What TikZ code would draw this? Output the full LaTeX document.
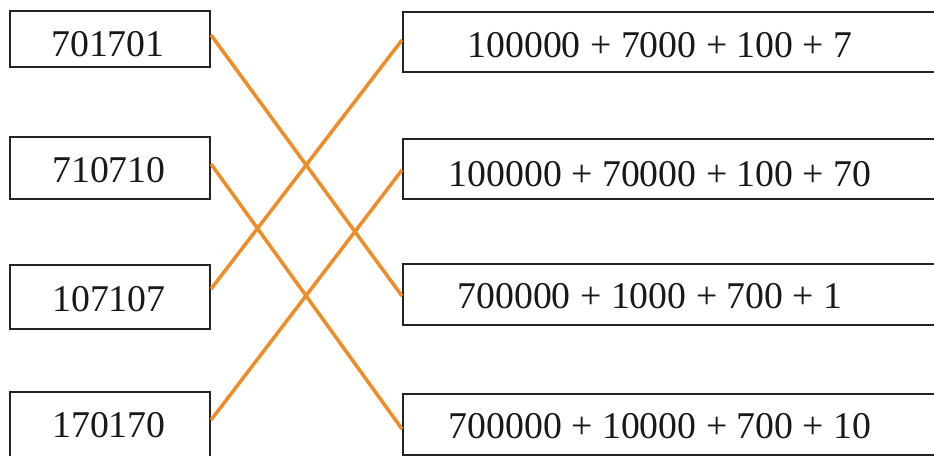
\documentclass[tikz,border=0pt]{standalone}
\usepackage{fontspec}
\setmainfont{Liberation Serif}
\definecolor{lineor}{RGB}{238,140,40}
\definecolor{boxc}{RGB}{35,35,35}
\tikzset{
  box/.style={draw=boxc, line width=1.2pt, rectangle, inner sep=0pt},
  txt/.style={font=\fontsize{21.5}{24}\selectfont, inner sep=0pt, text=black!90},
  link/.style={draw=lineor, line width=2pt},
}
\begin{document}
\begin{tikzpicture}[x=0.02cm,y=-0.02cm]
\useasboundingbox (0,0) rectangle (934,456);
\clip (0,0) rectangle (934,456);
% left boxes
\node[box, minimum width=4cm, minimum height=1.12cm] (l1) at (110,39) {};
\node[box, minimum width=4cm, minimum height=1.24cm] (l2) at (110,168) {};
\node[box, minimum width=4cm, minimum height=1.28cm] (l3) at (110,297) {};
\node[box, minimum width=4cm, minimum height=1.3cm] (l4) at (110,424.5) {};
% right boxes
\node[box, minimum width=10.94cm, minimum height=1.2cm] (r1) at (676.5,42) {};
\node[box, minimum width=10.94cm, minimum height=1.2cm] (r2) at (676.5,169) {};
\node[box, minimum width=10.94cm, minimum height=1.22cm] (r3) at (676.5,294.5) {};
\node[box, minimum width=10.94cm, minimum height=1.22cm] (r4) at (676.5,424.5) {};
% texts
\node[txt] (t1) at (108,44) {701701};
\node[txt] (t2) at (109,170.5) {710710};
\node[txt] (t3) at (109,299) {107107};
\node[txt] (t4) at (109,425) {170170};
\node[txt] (s1) at (660,45) {100000 + 7000 + 100 + 7};
\node[txt] (s2) at (660,174) {100000 + 70000 + 100 + 70};
\node[txt] (s3) at (650,296) {700000 + 1000 + 700 + 1};
\node[txt] (s4) at (660,426) {700000 + 10000 + 700 + 10};
% connectors
\draw[link] ([yshift=0.08cm]l1.east) -- ([yshift=-0.03cm]r3.west);
\draw[link] ([yshift=0.08cm]l2.east) -- ([yshift=-0.09cm]r4.west);
\draw[link] ([yshift=0.16cm]l3.east) -- ([yshift=0.04cm]r1.west);
\draw[link] ([yshift=0.09cm]l4.east) -- ([yshift=-0.02cm]r2.west);
\end{tikzpicture}
\end{document}
